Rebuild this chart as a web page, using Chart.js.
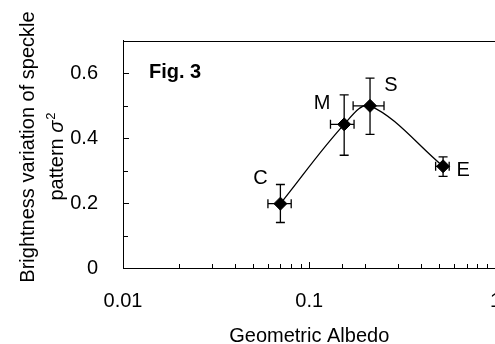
<!DOCTYPE html>
<html>
<head>
<meta charset="utf-8">
<script src="https://cdn.jsdelivr.net/npm/chart.js@4"></script>
<style>
  html, body { margin: 0; padding: 0; background: #fff; overflow: hidden; }
  #wrap { width: 530px; height: 344px; }
</style>
</head>
<body>
<div id="wrap"><canvas id="albedoChart" width="530" height="344"></canvas></div>
<script>
// Speckle brightness variation vs geometric albedo (Fig. 3)
const classes = ["C", "M", "S", "E"];
const albedo = [0.070, 0.154, 0.212, 0.523];
const albedoLow = [0.060, 0.130, 0.172, 0.477];
const albedoHigh = [0.080, 0.174, 0.252, 0.564];
const sigma2 = [0.198, 0.442, 0.499, 0.313];
const sigma2Low = [0.140, 0.347, 0.411, 0.282];
const sigma2High = [0.257, 0.533, 0.584, 0.342];
const xTickLabels = ["0.01", "0.1", "1"];
const yTickLabels = ["0", "0.2", "0.4", "0.6"];

const FONT = "Arial, 'Liberation Sans', sans-serif";
const FS = 20;

// label offsets relative to the marker (dx, dy of baseline)
const labelOffsets = [[-20, -20], [-22, -15], [21, -15], [20, 10]];

const isDecade = (v) => Math.abs(Math.log10(v) - Math.round(Math.log10(v))) < 1e-6;

const errorBars = {
  id: "errorBars",
  beforeDatasetsDraw(chart) {
    const { ctx, scales: { x, y } } = chart;
    ctx.save();
    ctx.strokeStyle = "#000";
    ctx.lineWidth = 1.3;
    const cap = 4.5;
    albedo.forEach((a, i) => {
      const px = x.getPixelForValue(a);
      const py = y.getPixelForValue(sigma2[i]);
      const yTop = y.getPixelForValue(sigma2High[i]);
      const yBot = y.getPixelForValue(sigma2Low[i]);
      const xL = x.getPixelForValue(albedoLow[i]);
      const xR = x.getPixelForValue(albedoHigh[i]);
      ctx.beginPath();
      ctx.moveTo(px, yTop); ctx.lineTo(px, yBot);
      ctx.moveTo(px - cap, yTop); ctx.lineTo(px + cap, yTop);
      ctx.moveTo(px - cap, yBot); ctx.lineTo(px + cap, yBot);
      ctx.moveTo(xL, py); ctx.lineTo(xR, py);
      ctx.moveTo(xL, py - cap); ctx.lineTo(xL, py + cap);
      ctx.moveTo(xR, py - cap); ctx.lineTo(xR, py + cap);
      ctx.stroke();
    });
    ctx.restore();
  },
};

const decorations = {
  id: "decorations",
  afterDraw(chart) {
    const { ctx, chartArea: area, scales: { x, y } } = chart;
    ctx.save();
    ctx.strokeStyle = "#000";
    ctx.fillStyle = "#000";
    ctx.lineWidth = 1;

    // top and right border
    ctx.beginPath();
    ctx.moveTo(area.left, Math.round(area.top) + 0.5);
    ctx.lineTo(area.right, Math.round(area.top) + 0.5);
    ctx.moveTo(Math.round(area.right) + 0.5, area.top);
    ctx.lineTo(Math.round(area.right) + 0.5, area.bottom);
    ctx.stroke();

    // inward ticks
    ctx.beginPath();
    y.ticks.forEach((t) => {
      if (t.value <= 0 || t.value >= y.max - 1e-9) return;
      const py = Math.round(y.getPixelForValue(t.value)) + 0.5;
      const major = Math.round(t.value * 10) % 2 === 0;
      ctx.moveTo(area.left, py);
      ctx.lineTo(area.left + (major ? 6 : 5), py);
    });
    x.ticks.forEach((t) => {
      if (t.value <= x.min * 1.0001 || t.value >= x.max * 0.9999) return;
      const px = Math.round(x.getPixelForValue(t.value)) + 0.5;
      ctx.moveTo(px, area.bottom);
      ctx.lineTo(px, area.bottom - (isDecade(t.value) ? 6 : 4));
    });
    ctx.stroke();

    // point labels
    ctx.font = `${FS}px ${FONT}`;
    ctx.textAlign = "center";
    ctx.textBaseline = "alphabetic";
    classes.forEach((c, i) => {
      const px = x.getPixelForValue(albedo[i]);
      const py = y.getPixelForValue(sigma2[i]);
      ctx.fillText(c, px + labelOffsets[i][0], py + labelOffsets[i][1]);
    });

    // figure tag
    ctx.font = `bold ${FS}px ${FONT}`;
    ctx.textAlign = "left";
    ctx.fillText("Fig. 3", 149, 78);

    // x title
    ctx.font = `${FS}px ${FONT}`;
    ctx.textAlign = "center";
    ctx.fillText("Geometric Albedo", (area.left + area.right) / 2, 342);

    // y title, two lines, rotated
    ctx.save();
    ctx.translate(33.5, 147);
    ctx.rotate(-Math.PI / 2);
    ctx.fillText("Brightness variation of speckle", 0, 0);
    ctx.restore();

    ctx.save();
    ctx.translate(62.5, 156.5);
    ctx.rotate(-Math.PI / 2);
    const partA = "pattern ";
    const fontN = `${FS}px ${FONT}`;
    const fontI = `italic ${FS}px ${FONT}`;
    const fontS = `${Math.round(FS * 0.65)}px ${FONT}`;
    ctx.font = fontN; const wA = ctx.measureText(partA).width;
    ctx.font = fontI; const wB = ctx.measureText("σ").width;
    ctx.font = fontS; const wC = ctx.measureText("2").width;
    let cx = -(wA + wB + wC + 1) / 2;
    ctx.textAlign = "left";
    ctx.font = fontN; ctx.fillText(partA, cx, 0); cx += wA;
    ctx.font = fontI; ctx.fillText("σ", cx, 0); cx += wB + 1;
    ctx.font = fontS; ctx.fillText("2", cx, -8);
    ctx.restore();

    ctx.restore();
  },
};

new Chart(document.getElementById("albedoChart"), {
  type: "line",
  data: {
    datasets: [
      {
        data: albedo.map((a, i) => ({ x: a, y: sigma2[i] })),
        borderColor: "#000",
        borderWidth: 1.3,
        tension: 0.35,
        pointStyle: "rectRot",
        pointRadius: 6.5,
        pointBackgroundColor: "#000",
        pointBorderColor: "#000",
        pointBorderWidth: 1,
        fill: false,
      },
    ],
  },
  options: {
    responsive: false,
    devicePixelRatio: 1,
    animation: false,
    layout: { padding: { left: 0, top: 40.5, right: 34.5, bottom: 0 } },
    plugins: { legend: { display: false }, tooltip: { enabled: false } },
    scales: {
      x: {
        type: "logarithmic",
        min: 0.01,
        max: 1,
        grid: { display: false },
        border: { display: true, color: "#000", width: 1 },
        ticks: {
          autoSkip: false,
          maxRotation: 0,
          padding: 13,
          color: "#000",
          font: { family: FONT, size: FS },
          callback: (v) => {
            if (!isDecade(v)) return "";
            const idx = Math.round(Math.log10(v)) + 2;
            return xTickLabels[idx] ?? "";
          },
        },
        afterFit: (s) => { s.height = 76; },
      },
      y: {
        min: 0,
        max: 0.7,
        grid: { display: false },
        border: { display: true, color: "#000", width: 1 },
        ticks: {
          stepSize: 0.1,
          autoSkip: false,
          padding: 17,
          color: "#000",
          font: { family: FONT, size: FS },
          callback: (v) => {
            const k = Math.round(v * 10);
            return k % 2 === 0 ? (yTickLabels[k / 2] ?? "") : "";
          },
        },
        afterFit: (s) => { s.width = 123; },
      },
    },
  },
  plugins: [errorBars, decorations],
});
</script>
</body>
</html>
